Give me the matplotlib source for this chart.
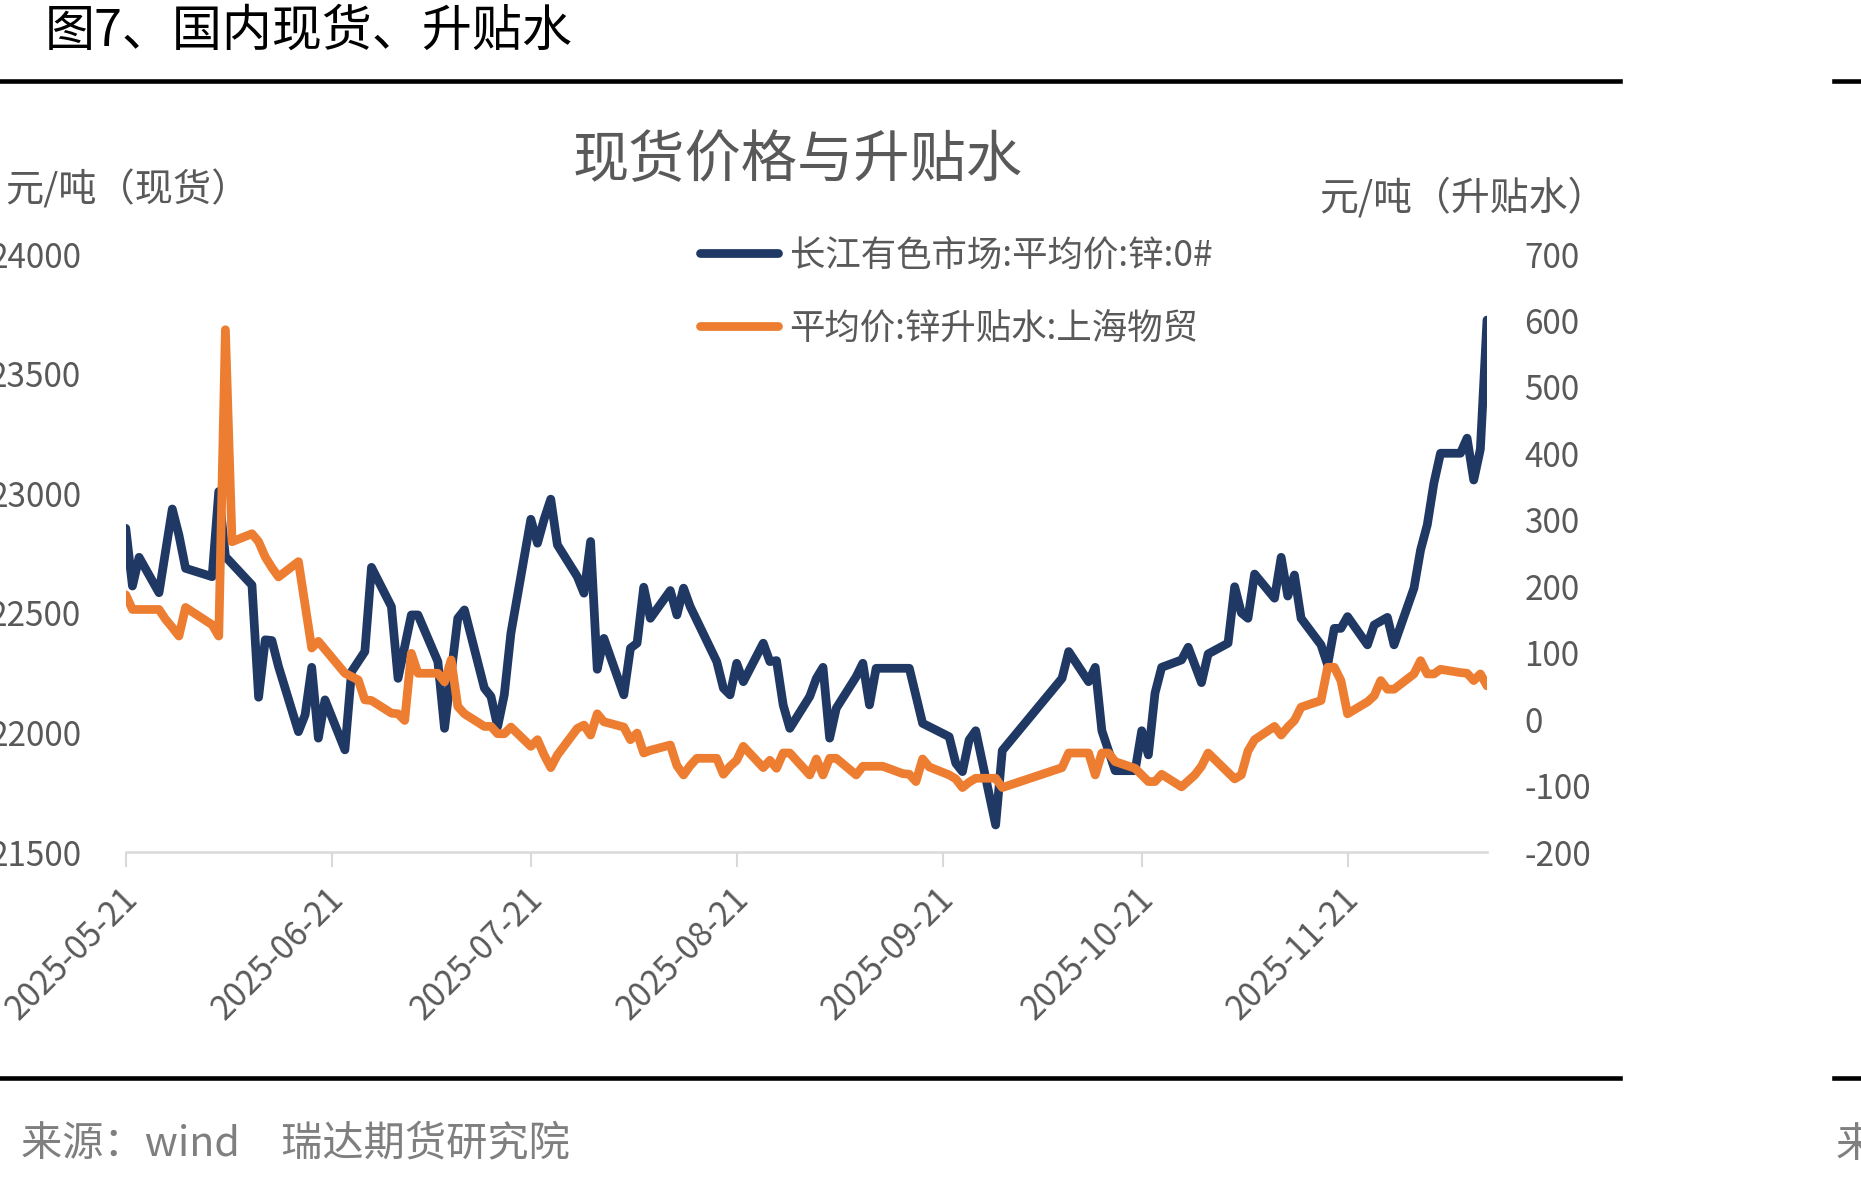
import matplotlib
matplotlib.use("Agg")
import matplotlib.pyplot as plt
import matplotlib.dates as mdates
import matplotlib.transforms as mtransforms
import pandas as pd

plt.rcParams['font.family'] = ['Noto Sans CJK SC', 'DejaVu Sans']
plt.rcParams['axes.unicode_minus'] = False

# 长江有色市场:平均价:锌:0#  (元/吨, 左轴)
spot_dates = [
    "2025-05-21", "2025-05-22", "2025-05-23", "2025-05-26", "2025-05-28", "2025-05-29",
    "2025-05-30", "2025-06-03", "2025-06-04", "2025-06-05", "2025-06-09", "2025-06-10",
    "2025-06-11", "2025-06-12", "2025-06-13", "2025-06-16", "2025-06-17", "2025-06-18",
    "2025-06-19", "2025-06-20", "2025-06-23", "2025-06-24", "2025-06-26", "2025-06-27",
    "2025-06-30", "2025-07-01", "2025-07-03", "2025-07-04", "2025-07-07", "2025-07-08",
    "2025-07-10", "2025-07-11", "2025-07-14", "2025-07-15", "2025-07-16", "2025-07-17",
    "2025-07-18", "2025-07-21", "2025-07-22", "2025-07-23", "2025-07-24", "2025-07-25",
    "2025-07-28", "2025-07-29", "2025-07-30", "2025-07-31", "2025-08-01", "2025-08-04",
    "2025-08-05", "2025-08-06", "2025-08-07", "2025-08-08", "2025-08-11", "2025-08-12",
    "2025-08-13", "2025-08-14", "2025-08-18", "2025-08-19", "2025-08-20", "2025-08-21",
    "2025-08-22", "2025-08-25", "2025-08-26", "2025-08-27", "2025-08-28", "2025-08-29",
    "2025-09-01", "2025-09-02", "2025-09-03", "2025-09-04", "2025-09-05", "2025-09-08",
    "2025-09-09", "2025-09-10", "2025-09-11", "2025-09-12", "2025-09-15", "2025-09-16",
    "2025-09-18", "2025-09-22", "2025-09-23", "2025-09-24", "2025-09-25", "2025-09-26",
    "2025-09-29", "2025-09-30", "2025-10-09", "2025-10-10", "2025-10-13", "2025-10-14",
    "2025-10-15", "2025-10-17", "2025-10-20", "2025-10-21", "2025-10-22", "2025-10-23",
    "2025-10-24", "2025-10-27", "2025-10-28", "2025-10-30", "2025-10-31", "2025-11-03",
    "2025-11-04", "2025-11-05", "2025-11-06", "2025-11-07", "2025-11-10", "2025-11-11",
    "2025-11-12", "2025-11-13", "2025-11-14", "2025-11-17", "2025-11-18", "2025-11-19",
    "2025-11-20", "2025-11-21", "2025-11-24", "2025-11-25", "2025-11-27", "2025-11-28",
    "2025-12-01", "2025-12-02", "2025-12-03", "2025-12-04", "2025-12-05", "2025-12-08",
    "2025-12-09", "2025-12-10", "2025-12-11", "2025-12-12",
]
spot_price = [
    22853, 22612, 22732, 22584, 22934, 22825,
    22686, 22651, 23007, 22735, 22616, 22147,
    22387, 22384, 22275, 22003, 22073, 22272,
    21976, 22136, 21927, 22254, 22338, 22690,
    22526, 22226, 22491, 22491, 22296, 22017,
    22477, 22512, 22185, 22150, 22024, 22157,
    22415, 22891, 22791, 22891, 22975, 22784,
    22651, 22582, 22798, 22264, 22393, 22157,
    22352, 22373, 22607, 22477, 22593, 22491,
    22603, 22526, 22296, 22185, 22157, 22289,
    22212, 22373, 22296, 22300, 22115, 22017,
    22150, 22226, 22272, 21976, 22101, 22233,
    22289, 22115, 22268, 22268, 22268, 22268,
    22038, 21982, 21871, 21836, 21968, 22007,
    21613, 21924, 22226, 22338, 22212, 22272,
    22007, 21840, 21840, 22007, 21906, 22164,
    22272, 22303, 22356, 22208, 22328, 22373,
    22609, 22500, 22477, 22662, 22561, 22732,
    22570, 22658, 22477, 22366, 22282, 22435,
    22435, 22484, 22366, 22449, 22481, 22366,
    22603, 22763, 22867, 23042, 23167, 23167,
    23230, 23055, 23184, 23724,
]

# 平均价:锌升贴水:上海物贸  (元/吨, 右轴)
basis_dates = [
    "2025-05-21", "2025-05-22", "2025-05-23", "2025-05-26", "2025-05-27", "2025-05-28",
    "2025-05-29", "2025-05-30", "2025-06-03", "2025-06-04", "2025-06-05", "2025-06-06",
    "2025-06-09", "2025-06-10", "2025-06-11", "2025-06-12", "2025-06-13", "2025-06-16",
    "2025-06-18", "2025-06-19", "2025-06-23", "2025-06-25", "2025-06-26", "2025-06-27",
    "2025-06-30", "2025-07-01", "2025-07-02", "2025-07-03", "2025-07-04", "2025-07-07",
    "2025-07-08", "2025-07-09", "2025-07-10", "2025-07-11", "2025-07-14", "2025-07-15",
    "2025-07-16", "2025-07-17", "2025-07-18", "2025-07-21", "2025-07-22", "2025-07-23",
    "2025-07-24", "2025-07-25", "2025-07-28", "2025-07-29", "2025-07-30", "2025-07-31",
    "2025-08-01", "2025-08-04", "2025-08-05", "2025-08-06", "2025-08-07", "2025-08-08",
    "2025-08-11", "2025-08-12", "2025-08-13", "2025-08-14", "2025-08-15", "2025-08-18",
    "2025-08-19", "2025-08-20", "2025-08-21", "2025-08-22", "2025-08-25", "2025-08-26",
    "2025-08-27", "2025-08-28", "2025-08-29", "2025-09-01", "2025-09-02", "2025-09-03",
    "2025-09-04", "2025-09-05", "2025-09-08", "2025-09-09", "2025-09-12", "2025-09-15",
    "2025-09-16", "2025-09-17", "2025-09-18", "2025-09-19", "2025-09-22", "2025-09-23",
    "2025-09-24", "2025-09-25", "2025-09-26", "2025-09-29", "2025-09-30", "2025-10-09",
    "2025-10-10", "2025-10-13", "2025-10-14", "2025-10-15", "2025-10-16", "2025-10-17",
    "2025-10-20", "2025-10-21", "2025-10-22", "2025-10-23", "2025-10-24", "2025-10-27",
    "2025-10-28", "2025-10-29", "2025-10-30", "2025-10-31", "2025-11-04", "2025-11-05",
    "2025-11-06", "2025-11-07", "2025-11-10", "2025-11-11", "2025-11-12", "2025-11-13",
    "2025-11-14", "2025-11-17", "2025-11-18", "2025-11-19", "2025-11-20", "2025-11-21",
    "2025-11-24", "2025-11-25", "2025-11-26", "2025-11-27", "2025-11-28", "2025-12-01",
    "2025-12-02", "2025-12-03", "2025-12-04", "2025-12-05", "2025-12-08", "2025-12-09",
    "2025-12-10", "2025-12-11", "2025-12-12",
]
basis_value = [
    187, 165, 165, 165, 150, 138,
    125, 168, 142, 125, 586, 267,
    279, 267, 244, 228, 214, 237,
    107, 117, 69, 59, 29, 28,
    9, 8, -2, 99, 69, 69,
    56, 89, 19, 8, -11, -11,
    -22, -22, -12, -41, -31, -54,
    -73, -54, -14, -9, -24, 8,
    -4, -12, -31, -21, -51, -47,
    -39, -70, -84, -70, -59, -59,
    -83, -71, -62, -41, -73, -62,
    -74, -51, -51, -84, -60, -84,
    -59, -59, -84, -71, -71, -82,
    -83, -94, -60, -72, -84, -90,
    -103, -95, -89, -89, -103, -73,
    -51, -51, -84, -51, -51, -64,
    -74, -84, -94, -94, -83, -102,
    -93, -84, -71, -51, -90, -84,
    -48, -31, -11, -24, -12, -2,
    18, 28, 78, 78, 58, 8,
    26, 35, 58, 45, 45, 68,
    88, 68, 68, 75, 70, 69,
    58, 68, 50,
]

tick_dates = ["2025-05-21", "2025-06-21", "2025-07-21", "2025-08-21",
              "2025-09-21", "2025-10-21", "2025-11-21"]
left_ticks = [21500, 22000, 22500, 23000, 23500, 24000]
right_ticks = [-200, -100, 0, 100, 200, 300, 400, 500, 600, 700]

navy = "#203864"
orange = "#ED7D31"
grey_text = "#595959"
axis_grey = "#D9D9D9"

W, H = 1861, 1178
fig = plt.figure(figsize=(W / 100, H / 100), dpi=100)

ax = fig.add_axes([125.8 / W, 1 - 852 / H, (1487 - 125.8) / W, (852 - 254) / H])
ax2 = ax.twinx()

line1, = ax.plot(pd.to_datetime(spot_dates), spot_price, color=navy, lw=6.3,
                 solid_joinstyle='round', solid_capstyle='round')
line2, = ax2.plot(pd.to_datetime(basis_dates), basis_value, color=orange, lw=6.3,
                  solid_joinstyle='round', solid_capstyle='round')

ax.set_ylim(21500, 24000)
ax2.set_ylim(-200, 700)
ax.set_yticks(left_ticks)
ax2.set_yticks(right_ticks)
ax.set_xlim(pd.Timestamp("2025-05-21"), pd.Timestamp("2025-12-12"))
ax.set_xticks(pd.to_datetime(tick_dates))
ax.xaxis.set_major_formatter(mdates.DateFormatter("%Y-%m-%d"))

for a in (ax, ax2):
    for s in a.spines.values():
        s.set_visible(False)
ax.spines['bottom'].set_visible(True)
ax.spines['bottom'].set_color(axis_grey)
ax.spines['bottom'].set_linewidth(1.8)

ax.tick_params(axis='x', length=11, width=1.5, color=axis_grey, labelsize=24,
               labelcolor=grey_text, pad=10)
ax.tick_params(axis='y', length=0, pad=32, labelsize=24, labelcolor=grey_text)
ax2.tick_params(axis='y', length=0, pad=27, labelsize=24, labelcolor=grey_text)
shift = mtransforms.ScaledTranslation(-6 / 100, 0, fig.dpi_scale_trans)
for lab in ax.get_xticklabels():
    lab.set_rotation(45)
    lab.set_ha('right')
    lab.set_rotation_mode('anchor')
    lab.set_transform(lab.get_transform() + shift)

fig.legend([line1, line2], ["长江有色市场:平均价:锌:0#", "平均价:锌升贴水:上海物贸"],
           loc='center left', bbox_to_anchor=(700 / W, 1 - 292 / H),
           frameon=False, fontsize=25.5, labelcolor=grey_text, handlelength=2.2,
           handletextpad=0.33, labelspacing=1.05, borderpad=0, borderaxespad=0)

# 标题、单位、来源
fig.text(45 / W, 1 - 32 / H, "图7、国内现货、升贴水", fontsize=36, color="black",
         ha='left', va='center')
fig.text(797.6 / W, 1 - 161 / H, "现货价格与升贴水", fontsize=40.5, color=grey_text,
         ha='center', va='center')
fig.text(5 / W, 1 - 191 / H, "元/吨（现货）", fontsize=27.5, color=grey_text,
         ha='left', va='center')
fig.text(1463 / W, 1 - 198 / H, "元/吨（升贴水）", fontsize=28, color=grey_text,
         ha='center', va='center')
fig.text(21 / W, 1 - 1145 / H, "来源：wind　瑞达期货研究院", fontsize=29.7, color="#7F7F7F",
         ha='left', va='center')
fig.text(1836 / W, 1 - 1145 / H, "来源：wind", fontsize=29.7, color="#7F7F7F",
         ha='left', va='center')

# 上下分隔线
for y in (80.7, 1077.7):
    fig.add_artist(plt.Line2D([0, 1620 / W], [1 - y / H, 1 - y / H], color="black", lw=3.3,
                              transform=fig.transFigure))
    fig.add_artist(plt.Line2D([1834 / W, 1], [1 - y / H, 1 - y / H], color="black", lw=3.3,
                              transform=fig.transFigure))

fig.savefig("out.png", dpi=100)
